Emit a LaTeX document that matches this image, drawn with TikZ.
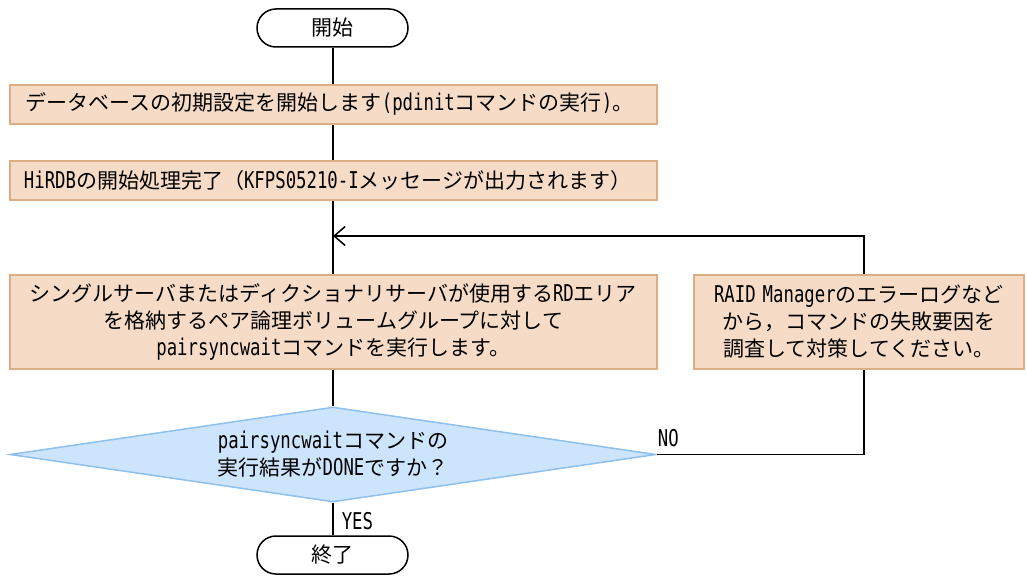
\documentclass[tikz,border=0pt]{standalone}
\usepackage{fontspec}
\setmainfont{Noto Sans CJK JP}
\newfontfamily\latinmono[FakeStretch=0.75,Scale=1.1]{DejaVu Sans Mono}
\newcommand\LT[1]{{\latinmono #1}}
\usetikzlibrary{shapes.geometric,arrows.meta}
\definecolor{boxfill}{HTML}{F6DCC6}
\definecolor{boxdraw}{HTML}{DCAE86}
\definecolor{diafill}{HTML}{CCE5FC}
\definecolor{diadraw}{HTML}{8EC0EE}
\tikzset{
  term/.style={draw=black, line width=1.5pt, rounded corners=19pt, minimum width=151pt, minimum height=38pt, inner sep=0pt},
  procbox/.style={draw=boxdraw, fill=boxfill, line width=1.8pt, inner sep=0pt},
  decision/.style={diamond, draw=diadraw, fill=diafill, line width=1.5pt, minimum width=646pt, minimum height=95pt, aspect=6.8, inner sep=0pt, align=center},
  conn/.style={draw=black, line width=1.5pt},
  lbl/.style={inner sep=0pt}
}
\begin{document}
\begin{tikzpicture}[x=1pt,y=-1pt, font=\fontsize{21}{27}\selectfont]
\useasboundingbox (0,0) rectangle (1027,578);
% nodes
\node[term] (start) at (332.5,28) {開始};
\node[procbox, anchor=north west, minimum width=647pt, minimum height=39pt, text width=615pt, inner xsep=16pt, align=left] (b1) at (9,84) {データベースの初期設定を開始します\LT{(pdinit}コマンドの実行\LT{)}。};
\node[procbox, anchor=north west, minimum width=647pt, minimum height=39pt, text width=619pt, inner xsep=14pt, align=left] (b2) at (9,160) {\LT{HiRDB}の開始処理完了（\LT{KFPS05210-I}メッセージが出力されます）};
\node[procbox, anchor=north west, minimum width=647pt, minimum height=94pt, text width=640pt, align=center] (b3) at (9,274) {シングルサーバまたはディクショナリサーバが使用する\LT{RD}エリア\\を格納するペア論理ボリュームグループに対して\\\LT{pairsyncwait}コマンドを実行します。};
\node[decision] (dia) at (333,454.5) {\LT{pairsyncwait}コマンドの\\実行結果が\LT{DONE}ですか？};
\node[term] (end) at (332.5,555) {終了};
\coordinate (merge) at (333,236);
\coordinate (cr) at (864,454.5);
\coordinate (ct) at (864,236);
% connectors
\draw[conn] (start.south -| merge) -- (b1.north -| merge);
\draw[conn] (b1.south -| merge) -- (b2.north -| merge);
\draw[conn] (b2.south -| merge) -- (b3.north -| merge);
\draw[conn] (b3.south -| merge) -- (dia.north);
\draw[conn] (dia.south) -- node[lbl, anchor=west, xshift=8pt, yshift=-2pt]{\LT{YES}} (end.north -| dia.south);
\draw[conn, -{Straight Barb[length=11pt,width=19pt,line width=1.5pt]}] (dia.east) -- (cr) -- (ct) -- (merge);
\node[lbl, anchor=south west] (nolbl) at ([xshift=1pt,yshift=7pt]dia.east) {\LT{NO}};
\node[procbox, anchor=north west, minimum width=330pt, minimum height=94pt, text width=326pt, align=center] (b4) at (693,274) {\LT{RAID Manager}のエラーログなど\\から，コマンドの失敗要因を\\調査して対策してください。};
\end{tikzpicture}
\end{document}
